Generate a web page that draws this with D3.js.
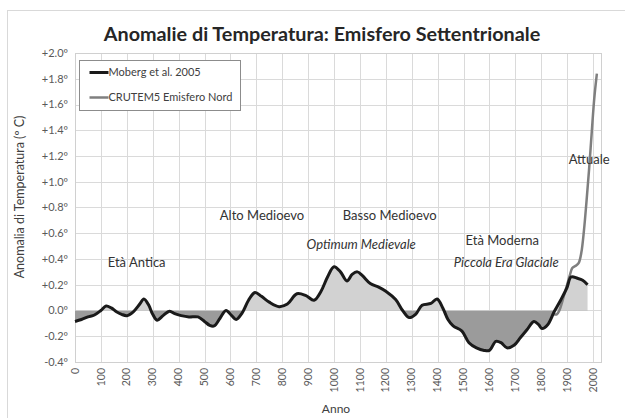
<!DOCTYPE html>
<html>
<head>
<meta charset="utf-8">
<script src="https://cdn.jsdelivr.net/npm/d3@7"></script>
<style>
  body { margin: 0; background: #fff; }
  svg { font-family: Lato, "Open Sans", sans-serif; }
</style>
</head>
<body>
<div id="chart"></div>
<script>
// Moberg et al. 2005 reconstruction
const mobergYears = [0, 25, 50, 75, 100, 120, 140, 160, 180, 200, 225, 250, 266, 285, 300, 317, 340, 365, 385, 410, 440, 475, 500, 520, 537, 560, 583, 605, 622, 645, 670, 695, 720, 750, 788, 820, 857, 892, 923, 950, 975, 1000, 1025, 1050, 1070, 1090, 1110, 1140, 1174, 1200, 1238, 1265, 1290, 1315, 1340, 1374, 1398, 1420, 1440, 1460, 1494, 1521, 1550, 1580, 1600, 1625, 1645, 1668, 1695, 1720, 1745, 1772, 1790, 1803, 1825, 1850, 1875, 1900, 1915, 1940, 1960, 1979];
const mobergValues = [-0.085, -0.07, -0.05, -0.035, 0.0, 0.035, 0.02, -0.01, -0.03, -0.04, -0.01, 0.05, 0.09, 0.04, -0.03, -0.075, -0.04, -0.005, -0.025, -0.04, -0.05, -0.05, -0.085, -0.115, -0.12, -0.06, 0.0, -0.04, -0.07, -0.02, 0.08, 0.14, 0.11, 0.065, 0.03, 0.05, 0.13, 0.115, 0.08, 0.15, 0.26, 0.34, 0.3, 0.23, 0.28, 0.30, 0.27, 0.21, 0.18, 0.15, 0.085, 0.0, -0.055, -0.03, 0.04, 0.055, 0.09, 0.02, -0.07, -0.12, -0.16, -0.25, -0.29, -0.31, -0.31, -0.24, -0.25, -0.29, -0.27, -0.21, -0.15, -0.085, -0.11, -0.14, -0.11, -0.01, 0.08, 0.18, 0.26, 0.25, 0.235, 0.2];

// CRUTEM5 northern hemisphere
const crutemYears = [1850, 1860, 1870, 1880, 1890, 1900, 1910, 1920, 1935, 1945, 1955, 1965, 1975, 1985, 1995, 2005, 2015];
const crutemValues = [-0.03, -0.03, 0.0, 0.06, 0.13, 0.2, 0.27, 0.33, 0.35, 0.37, 0.45, 0.62, 0.85, 1.1, 1.38, 1.65, 1.84];

const yTicks = [-0.4, -0.2, 0, 0.2, 0.4, 0.6, 0.8, 1.0, 1.2, 1.4, 1.6, 1.8, 2.0];
const xTicks = d3.range(0, 2001, 100);

const seriesNames = ["Moberg et al. 2005", "CRUTEM5 Emisfero Nord"];
const eras = [
  { text: "Età Antica", year: 238, value: 0.335, italic: false },
  { text: "Alto Medioevo", year: 722, value: 0.705, italic: false },
  { text: "Basso Medioevo", year: 1215, value: 0.705, italic: false },
  { text: "Optimum Medievale", year: 1105, value: 0.475, italic: true },
  { text: "Età Moderna", year: 1650, value: 0.505, italic: false },
  { text: "Piccola Era Glaciale", year: 1665, value: 0.335, italic: true },
  { text: "Attuale", year: 1985, value: 1.135, italic: false }
];

const width = 625, height = 418;
const plot = { left: 75, right: 601, top: 53, bottom: 362 };

const x = d3.scaleLinear().domain([0, 2000]).range([plot.left, plot.left + 518]);
const y = d3.scaleLinear().domain([-0.4, 2.0]).range([plot.bottom, plot.top]);

const svg = d3.select("#chart").append("svg")
  .attr("width", width)
  .attr("height", height);

// chart area border
svg.append("rect")
  .attr("x", 7.5).attr("y", 10.5)
  .attr("width", 660).attr("height", 440)
  .attr("fill", "#fff")
  .attr("stroke", "#d9d9d9");

// gridlines
svg.append("g").selectAll("line.h")
  .data(yTicks)
  .join("line")
  .attr("x1", plot.left).attr("x2", plot.right)
  .attr("y1", d => Math.round(y(d)) + 0.5).attr("y2", d => Math.round(y(d)) + 0.5)
  .attr("stroke", "#dadada");

svg.append("g").selectAll("line.v")
  .data(xTicks)
  .join("line")
  .attr("x1", d => Math.round(x(d)) + 0.5).attr("x2", d => Math.round(x(d)) + 0.5)
  .attr("y1", plot.top).attr("y2", plot.bottom)
  .attr("stroke", "#dadada");

svg.append("rect")
  .attr("x", plot.left + 0.5).attr("y", plot.top + 0.5)
  .attr("width", plot.right - plot.left).attr("height", plot.bottom - plot.top)
  .attr("fill", "none")
  .attr("stroke", "#d0d0d0");

// y tick labels
svg.append("g").selectAll("text")
  .data(yTicks)
  .join("text")
  .attr("x", plot.left - 7)
  .attr("y", d => y(d))
  .attr("dy", "0.35em")
  .attr("text-anchor", "end")
  .attr("font-size", 11)
  .attr("fill", "#595959")
  .text(d => (d > 0 ? "+" : "") + d.toFixed(1) + "º");

// x tick labels (rotated)
svg.append("g").selectAll("text")
  .data(xTicks)
  .join("text")
  .attr("transform", d => `translate(${x(d)},${plot.bottom + 6}) rotate(-90)`)
  .attr("dy", "0.35em")
  .attr("text-anchor", "end")
  .attr("font-size", 10.5)
  .attr("fill", "#595959")
  .text(d => d);

// axis titles
svg.append("text")
  .attr("transform", `translate(24,197) rotate(-90)`)
  .attr("text-anchor", "middle")
  .attr("font-size", 12.5)
  .attr("fill", "#404040")
  .text("Anomalia di Temperatura (º C)");

svg.append("text")
  .attr("x", 336).attr("y", 413)
  .attr("text-anchor", "middle")
  .attr("font-size", 12)
  .attr("fill", "#404040")
  .text("Anno");

// title
svg.append("text")
  .attr("x", 322).attr("y", 41)
  .attr("text-anchor", "middle")
  .attr("font-size", 19.8)
  .attr("font-weight", "bold")
  .attr("fill", "#262626")
  .text("Anomalie di Temperatura: Emisfero Settentrionale");

const moberg = mobergYears.map((yr, i) => ({ year: yr, value: mobergValues[i] }));
const crutem = crutemYears.map((yr, i) => ({ year: yr, value: crutemValues[i] }));

const curve = d3.curveCatmullRom.alpha(0.5);

// filled area between curve and zero, light above / dark below
const defs = svg.append("defs");
defs.append("clipPath").attr("id", "above")
  .append("rect")
  .attr("x", plot.left).attr("y", plot.top)
  .attr("width", plot.right - plot.left).attr("height", y(0) - plot.top);
defs.append("clipPath").attr("id", "below")
  .append("rect")
  .attr("x", plot.left).attr("y", y(0))
  .attr("width", plot.right - plot.left).attr("height", plot.bottom - y(0));

const area = d3.area()
  .x(d => x(d.year))
  .y0(y(0))
  .y1(d => y(d.value))
  .curve(curve);

svg.append("path")
  .datum(moberg)
  .attr("clip-path", "url(#above)")
  .attr("fill", "#d2d2d2")
  .attr("d", area);

svg.append("path")
  .datum(moberg)
  .attr("clip-path", "url(#below)")
  .attr("fill", "#9b9b9b")
  .attr("d", area);

const line = d3.line()
  .x(d => x(d.year))
  .y(d => y(d.value))
  .curve(curve);

svg.append("path")
  .datum(crutem)
  .attr("fill", "none")
  .attr("stroke", "#7f7f7f")
  .attr("stroke-width", 2.5)
  .attr("d", line);

svg.append("path")
  .datum(moberg)
  .attr("fill", "none")
  .attr("stroke", "#1a1a1a")
  .attr("stroke-width", 3)
  .attr("stroke-linejoin", "round")
  .attr("d", line);

// era annotations
svg.append("g").selectAll("text")
  .data(eras)
  .join("text")
  .attr("x", d => x(d.year))
  .attr("y", d => y(d.value))
  .attr("text-anchor", "middle")
  .attr("font-size", 13)
  .attr("font-style", d => d.italic ? "italic" : "normal")
  .attr("fill", "#333")
  .text(d => d.text);

// legend
const legend = svg.append("g").attr("transform", "translate(79.5,60.5)");
legend.append("rect")
  .attr("width", 161).attr("height", 50)
  .attr("fill", "#fff")
  .attr("stroke", "#8c8c8c");
const legendColors = ["#1a1a1a", "#7f7f7f"];
const legendRow = legend.selectAll("g.row")
  .data(seriesNames)
  .join("g")
  .attr("transform", (d, i) => `translate(0,${12 + i * 25})`);
legendRow.append("line")
  .attr("x1", 10).attr("x2", 29)
  .attr("stroke", (d, i) => legendColors[i])
  .attr("stroke-width", (d, i) => i === 0 ? 3 : 2.5);
legendRow.append("text")
  .attr("x", 29)
  .attr("dy", "0.35em")
  .attr("font-size", 11)
  .attr("fill", "#404040")
  .text(d => d);
</script>
</body>
</html>
